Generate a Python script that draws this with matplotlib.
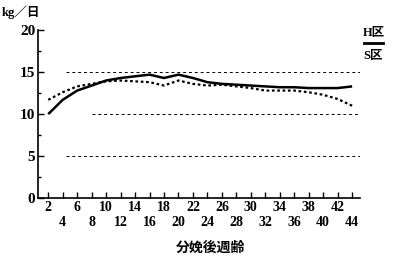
import numpy as np
import matplotlib
matplotlib.use('Agg')
import matplotlib.pyplot as plt

plt.rcParams['font.family'] = ['Liberation Serif', 'Noto Sans CJK JP']

# weeks after calving and daily yield (kg/day)
weeks = [2, 4, 6, 8, 10, 12, 14, 16, 18, 20, 22, 24, 26, 28, 30, 32, 34, 36, 38, 40, 42, 44]
h_area = [10.0, 11.7, 12.8, 13.4, 14.0, 14.3, 14.5, 14.7, 14.3, 14.7, 14.3, 13.8,
          13.6, 13.5, 13.4, 13.3, 13.2, 13.2, 13.1, 13.1, 13.1, 13.3]
s_area = [11.7, 12.6, 13.3, 13.6, 13.9, 14.0, 13.9, 13.8, 13.4, 14.0, 13.6, 13.4,
          13.5, 13.3, 13.1, 12.8, 12.8, 12.8, 12.6, 12.3, 11.8, 11.0]
x_ticks = list(range(2, 46, 2))
y_ticks = [0, 5, 10, 15, 20]

fig = plt.figure(figsize=(3.97, 2.62), dpi=100)
ax = fig.add_axes([0.096, 0.244, 0.811, 0.641])

ax.plot(weeks, h_area, color='black', lw=1.8, solid_capstyle='butt')
ax.plot(weeks, s_area, color='black', lw=1.6, ls=(0, (1.2, 1.2)))

# dashed reference lines
ax.hlines(15, 4.5, 45.1, colors='black', lw=0.7, linestyles=(0, (3, 3)))
ax.hlines(10, 8.0, 45.1, colors='black', lw=0.7, linestyles=(0, (3, 3)))
ax.hlines(5, 4.5, 45.1, colors='black', lw=0.7, linestyles=(0, (3, 3)))

ax.set_xlim(0.6, 45.1)
ax.set_ylim(0, 20)
for s in ['top', 'right']:
    ax.spines[s].set_visible(False)
ax.spines['left'].set_linewidth(1.2)
ax.spines['bottom'].set_linewidth(1.2)

ax.set_xticks(x_ticks)
ax.set_xticklabels([str(w) if i % 2 == 0 else '\n' + str(w) for i, w in enumerate(x_ticks)],
                   fontsize=10, fontweight='bold', linespacing=1.2)
ax.set_yticks(y_ticks)
ax.set_yticklabels([str(v) for v in y_ticks], fontsize=11, fontweight='bold')
ax.set_yticks(np.arange(2.5, 20, 5), minor=True)
ax.tick_params(axis='both', direction='in', length=4, width=1, pad=2)
ax.tick_params(axis='y', which='minor', direction='in', length=2, width=1)

fig.text(0.005, 0.955, 'kg／日', fontsize=9, fontweight='bold', va='center')
fig.text(0.53, 0.052, '分娩後週齢', fontsize=10, fontweight='bold', ha='center', va='center')

fig.text(0.915, 0.875, 'H区', fontsize=9, fontweight='bold', va='center')
fig.add_artist(plt.Line2D([0.918, 0.965], [0.835, 0.835], color='black', lw=2,
                          transform=fig.transFigure))
fig.text(0.915, 0.785, 'S区', fontsize=9, fontweight='bold', va='center')

fig.savefig('out.png', dpi=100)
